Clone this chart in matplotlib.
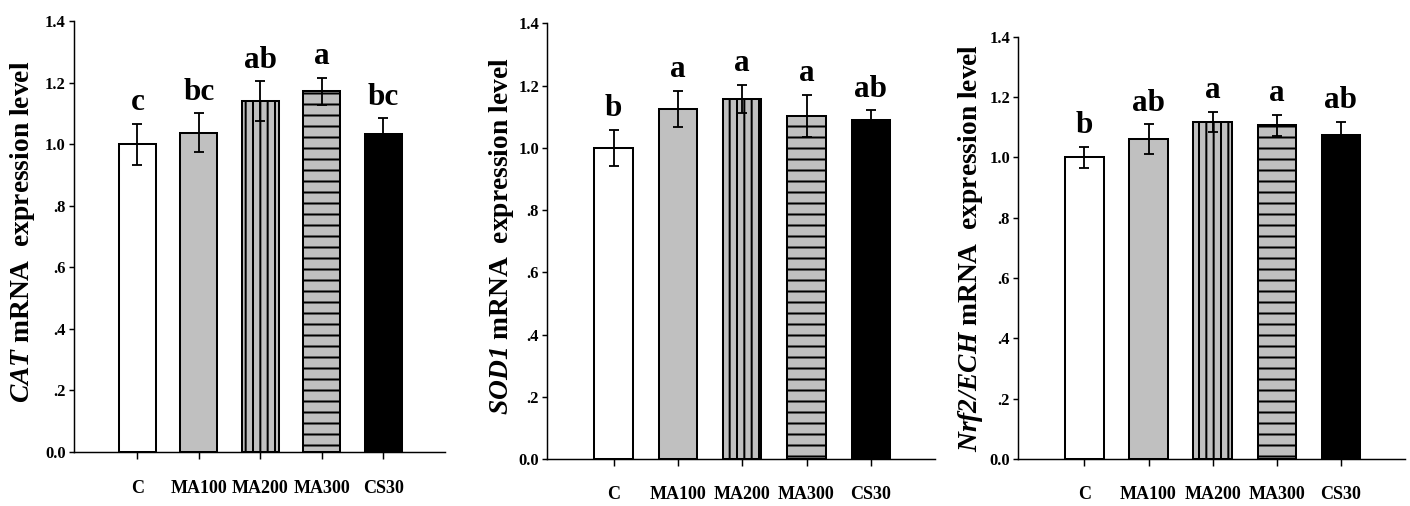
import numpy as np
import matplotlib
matplotlib.use('Agg')
import matplotlib.pyplot as plt

plt.rcParams['font.family'] = ['Liberation Serif', 'DejaVu Serif']
plt.rcParams['font.weight'] = 'bold'
plt.rcParams['mathtext.fontset'] = 'custom'
plt.rcParams['mathtext.rm'] = 'Liberation Serif:bold'
plt.rcParams['mathtext.it'] = 'Liberation Serif:italic:bold'
plt.rcParams['mathtext.bf'] = 'Liberation Serif:bold'
plt.rcParams['mathtext.bfit'] = 'Liberation Serif:italic:bold'
plt.rcParams['hatch.linewidth'] = 1.1

groups = ['C', 'MA100', 'MA200', 'MA300', 'CS30']
yticks = [0.0, 0.2, 0.4, 0.6, 0.8, 1.0, 1.2, 1.4]
ytick_labels = ['0.0', '.2', '.4', '.6', '.8', '1.0', '1.2', '1.4']

cat_mean = [1.00, 1.037, 1.140, 1.172, 1.032]
cat_err = [0.067, 0.063, 0.064, 0.044, 0.052]
cat_sig = ['c', 'bc', 'ab', 'a', 'bc']

sod_mean = [1.00, 1.125, 1.158, 1.102, 1.090]
sod_err = [0.058, 0.058, 0.045, 0.068, 0.030]
sod_sig = ['b', 'a', 'a', 'a', 'ab']

nrf_mean = [1.00, 1.060, 1.117, 1.106, 1.073]
nrf_err = [0.034, 0.050, 0.034, 0.036, 0.045]
nrf_sig = ['b', 'ab', 'a', 'a', 'ab']

fills = ['white', '#c0c0c0', '#c0c0c0', '#c0c0c0', 'black']
hatches = [None, None, '|||', '--', None]

dpi = 132
fig = plt.figure(figsize=(1410 / dpi, 506 / dpi), dpi=dpi)

panels = [
    ([0.0525, 0.1067, 0.2631, 0.8518], cat_mean, cat_err, cat_sig,
     r'$\mathbfit{CAT}$ mRNA  expression level', (-0.100, 0.51)),
    ([0.3882, 0.0929, 0.2750, 0.8611], sod_mean, sod_err, sod_sig,
     r'$\mathbfit{SOD1}$ mRNA  expression level', (-0.080, 0.51)),
    ([0.7222, 0.0929, 0.2743, 0.8346], nrf_mean, nrf_err, nrf_sig,
     r'$\mathbfit{Nrf2/ECH}$ mRNA  expression level', (-0.085, 0.50)),
]

x = np.arange(len(groups))
for rect, mean, err, sig, ylabel, lc in panels:
    ax = fig.add_axes(rect)
    ax.bar(x, mean, width=0.6, color=fills, edgecolor='black',
           linewidth=1.1, hatch=hatches, zorder=2)
    ax.errorbar(x, mean, yerr=err, fmt='none', ecolor='black',
                elinewidth=1.0, capsize=2.5, capthick=1.0, zorder=3)
    for xi, m, e, s in zip(x, mean, err, sig):
        ax.text(xi, m + e + 0.022, s, ha='center', va='bottom',
                fontsize=17, fontweight='bold')

    ax.set_xlim(-1.03, 5.0)
    ax.set_ylim(0, 1.4)
    ax.set_yticks(yticks)
    ax.set_yticklabels(ytick_labels, fontsize=9, fontweight='bold')
    ax.set_xticks(x)
    ax.set_xticklabels(groups, fontsize=9.8, fontweight='bold')
    ax.tick_params(axis='y', direction='out', length=2.5, width=0.8, pad=2)
    ax.tick_params(axis='x', direction='out', length=4, width=0.8, pad=11)
    for side in ['top', 'right']:
        ax.spines[side].set_visible(False)
    for side in ['left', 'bottom']:
        ax.spines[side].set_linewidth(0.8)

    ax.set_ylabel(ylabel, fontsize=15, fontweight='bold')
    ax.yaxis.set_label_coords(lc[0], lc[1])

fig.savefig('out.png', dpi=dpi)
